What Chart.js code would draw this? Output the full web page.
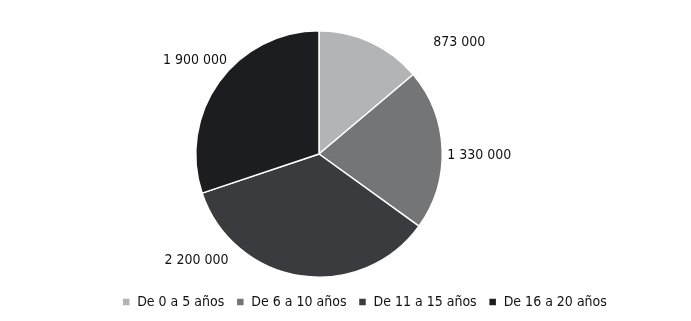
<!DOCTYPE html>
<html>
<head>
<meta charset="utf-8">
<script src="https://cdn.jsdelivr.net/npm/chart.js@4/dist/chart.umd.min.js"></script>
<style>
  html, body { margin: 0; padding: 0; background: #fff; }
  #wrap { width: 691px; height: 321px; }
</style>
</head>
<body>
<div id="wrap"><canvas id="pieChart"></canvas></div>
<script>
  // datos
  const categories = ['De 0 a 5 años', 'De 6 a 10 años', 'De 11 a 15 años', 'De 16 a 20 años'];
  const values = [873000, 1330000, 2200000, 1900000];
  const sliceColors = ['#b2b4b5', '#737576', '#3a3b3e', '#1c1d21'];

  const FONT = "'Liberation Sans Narrow', 'DejaVu Sans Condensed', 'Arial Narrow', sans-serif";

  function formatValue(v) {
    // separador de miles con espacio
    return String(v).replace(/\B(?=(\d{3})+(?!\d))/g, ' ');
  }

  // posicionamiento del área del pastel (centro y radio) independiente de la leyenda
  const pieArea = {
    id: 'pieArea',
    afterLayout(chart, args, opts) {
      const a = chart.chartArea;
      a.left = opts.cx - opts.r;
      a.right = opts.cx + opts.r;
      a.top = opts.cy - opts.r;
      a.bottom = opts.cy + opts.r;
      a.width = opts.r * 2;
      a.height = opts.r * 2;
    }
  };

  // etiquetas de valores fuera de las porciones
  const outerLabels = {
    id: 'outerLabels',
    afterDatasetsDraw(chart, args, opts) {
      const meta = chart.getDatasetMeta(0);
      const ctx = chart.ctx;
      ctx.save();
      ctx.font = `${opts.size}px ${FONT}`;
      ctx.fillStyle = '#111';
      ctx.textAlign = 'center';
      ctx.textBaseline = 'middle';
      meta.data.forEach((arc, i) => {
        const [deg, extra] = opts.placement[i];
        const ang = (deg - 90) * Math.PI / 180;
        const d = arc.outerRadius + extra;
        ctx.fillText(formatValue(values[i]), arc.x + Math.cos(ang) * d, arc.y + Math.sin(ang) * d);
      });
      ctx.restore();
    }
  };

  new Chart(document.getElementById('pieChart'), {
    type: 'pie',
    data: {
      labels: categories,
      datasets: [{
        data: values,
        backgroundColor: sliceColors,
        borderColor: '#ffffff',
        borderWidth: 1.5,
        hoverOffset: 0
      }]
    },
    options: {
      responsive: true,
      maintainAspectRatio: false,
      animation: false,
      layout: { padding: { left: 38, right: 0, top: 0, bottom: 2 } },
      plugins: {
        tooltip: { enabled: false },
        legend: {
          position: 'bottom',
          labels: {
            boxWidth: 8,
            boxHeight: 8,
            padding: 12,
            color: '#111',
            font: { family: FONT, size: 14 }
          }
        },
        pieArea: { cx: 319, cy: 154, r: 124 },
        outerLabels: {
          size: 14,
          placement: [[51.5, 56], [90.4, 37], [229, 39], [307, 32]]
        }
      }
    },
    plugins: [pieArea, outerLabels]
  });
</script>
</body>
</html>
